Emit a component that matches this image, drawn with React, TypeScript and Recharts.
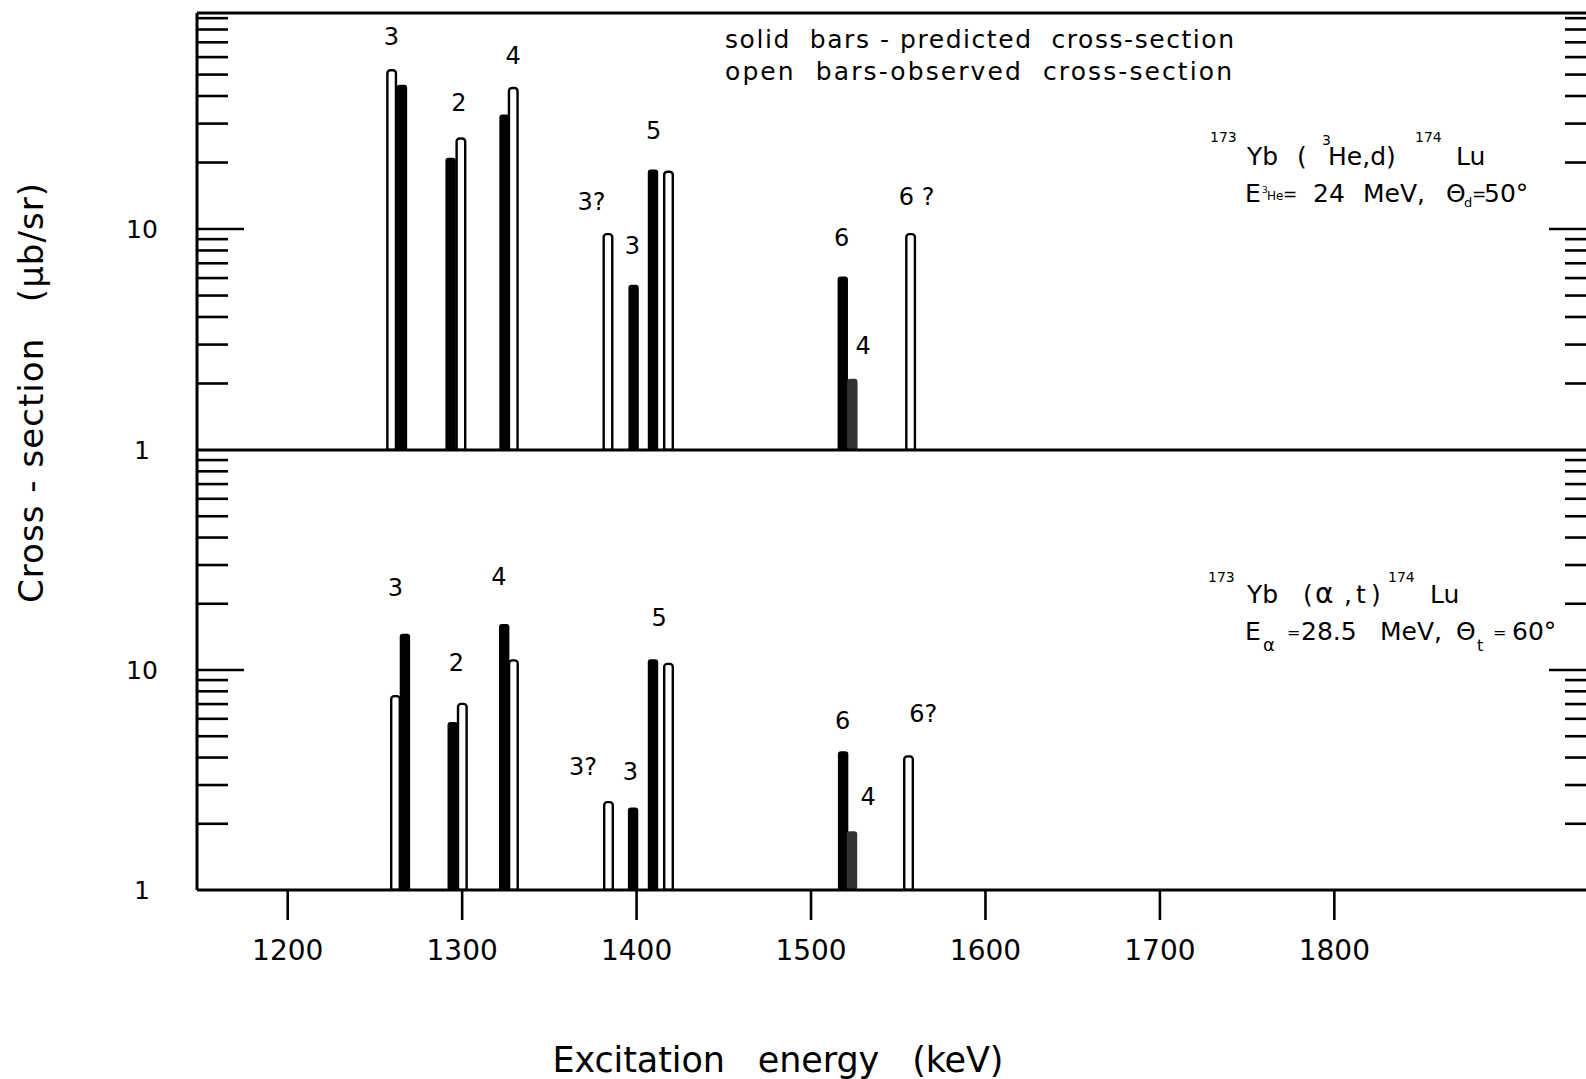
import React from "react";
import {
  ComposedChart,
  Bar,
  Scatter,
  XAxis,
  YAxis,
  ReferenceLine,
  Rectangle,
} from "recharts";

const FONT = '"DejaVu Sans", "Noto Sans", sans-serif';

// 173Yb(3He,d)174Lu panel: level energies (keV), cross-sections (ub/sr), bar kind
const HED_ENERGY = [1259.6, 1265.5, 1293.4, 1299.3, 1324.3, 1329.3, 1383.6, 1398.3, 1409.4, 1418.3, 1518.2, 1523.7, 1557.1];
const HED_XS = [53, 45, 21, 26, 33, 44, 9.6, 5.6, 18.6, 18.4, 6.1, 2.1, 9.6];
const HED_KIND = ["open", "solid", "solid", "open", "solid", "open", "open", "solid", "solid", "open", "solid", "stipple", "open"];
const HED_DOMAIN = [1, 95];

// spin labels above the (3He,d) bars
const HED_LABEL = ["3", "2", "4", "3?", "3", "5", "6", "4", "6 ?"];
const HED_LABEL_E = [1259.4, 1298.2, 1329.2, 1374.1, 1397.6, 1409.8, 1517.5, 1529.9, 1560.5];
const HED_LABEL_V = [74, 37, 61, 13.3, 8.4, 27.9, 9.1, 2.95, 14];

// 173Yb(alpha,t)174Lu panel
const ALT_ENERGY = [1261.8, 1267.2, 1294.6, 1300.1, 1324.1, 1329.4, 1383.9, 1398.0, 1409.4, 1418.3, 1518.4, 1523.5, 1555.9];
const ALT_XS = [7.7, 14.6, 5.8, 7.1, 16.2, 11.2, 2.54, 2.37, 11.2, 10.8, 4.27, 1.85, 4.1];
const ALT_KIND = ["open", "solid", "solid", "open", "solid", "open", "open", "solid", "solid", "open", "solid", "stipple", "open"];
const ALT_DOMAIN = [1, 100];

const ALT_LABEL = ["3", "2", "4", "3?", "3", "5", "6", "4", "6?"];
const ALT_LABEL_E = [1261.7, 1296.7, 1321.0, 1369.3, 1396.5, 1412.9, 1518.1, 1532.7, 1564.3];
const ALT_LABEL_V = [23.5, 10.8, 26.4, 3.63, 3.45, 17.2, 5.89, 2.66, 6.31];

const ENERGY_TICKS = [1200, 1300, 1400, 1500, 1600, 1700, 1800];
const XS_TICKS = [1, 2, 3, 4, 5, 6, 7, 8, 9, 10, 20, 30, 40, 50, 60, 70, 80, 90];
const XS_TICK_LABELS: Record<number, string> = { 1: "1", 10: "10" };

const hedBars = HED_ENERGY.map((e, i) => ({ e, v: HED_XS[i], kind: HED_KIND[i] }));
const hedLabels = HED_LABEL.map((text, i) => ({ e: HED_LABEL_E[i], v: HED_LABEL_V[i], text }));
const altBars = ALT_ENERGY.map((e, i) => ({ e, v: ALT_XS[i], kind: ALT_KIND[i] }));
const altLabels = ALT_LABEL.map((text, i) => ({ e: ALT_LABEL_E[i], v: ALT_LABEL_V[i], text }));

function CrossSectionBar(props: any) {
  const { x, y, width, height, payload } = props;
  if (!isFinite(x) || !isFinite(y) || !height) return null;
  const cx = x + (width || 0) / 2;
  if (payload.kind === "open") {
    return (
      <Rectangle
        x={cx - 4.3}
        y={y + 1.2}
        width={8.6}
        height={height - 1.2}
        radius={[3, 3, 0, 0]}
        fill="#fff"
        stroke="#000"
        strokeWidth={2.4}
      />
    );
  }
  return (
    <Rectangle
      x={cx - 5.2}
      y={y}
      width={10.4}
      height={height}
      radius={[3, 3, 0, 0]}
      fill={payload.kind === "stipple" ? "#333" : "#000"}
    />
  );
}

function PeakLabel(props: any) {
  const { cx, cy, payload } = props;
  return (
    <text
      x={cx}
      y={cy}
      textAnchor="middle"
      dominantBaseline="central"
      fontSize={24}
      fontFamily={FONT}
      fill="#000"
      style={{ whiteSpace: "pre" }}
    >
      {payload.text}
    </text>
  );
}

function LeftTick(props: any) {
  const { x, y, payload } = props;
  const v = payload.value;
  const len = v === 10 ? 47 : 31;
  const label = XS_TICK_LABELS[v];
  return (
    <g>
      {v > 1 && (
        <line x1={x} x2={x + len} y1={y} y2={y} stroke="#000" strokeWidth={2.6} />
      )}
      {label && (
        <text
          x={x - 55}
          y={y}
          textAnchor="middle"
          dominantBaseline="central"
          fontSize={25}
          fontFamily={FONT}
          fill="#000"
        >
          {label}
        </text>
      )}
    </g>
  );
}

function RightTick(props: any) {
  const { x, y, payload } = props;
  const v = payload.value;
  if (v <= 1) return <g />;
  const len = v === 10 ? 47 : 31;
  return <line x1={x - len} x2={x} y1={y} y2={y} stroke="#000" strokeWidth={2.6} />;
}

function EnergyTick(props: any) {
  const { x, y, payload } = props;
  return (
    <text x={x} y={y + 40} textAnchor="middle" fontSize={28} fontFamily={FONT} fill="#000">
      {payload.value}
    </text>
  );
}

function Panel({
  bars,
  labels,
  domain,
  height,
  margin,
  showEnergyAxis,
}: {
  bars: { e: number; v: number; kind: string }[];
  labels: { e: number; v: number; text: string }[];
  domain: number[];
  height: number;
  margin: { top: number; right: number; bottom: number; left: number };
  showEnergyAxis: boolean;
}) {
  return (
    <ComposedChart width={1610} height={height} data={bars} margin={margin}>
      <XAxis
        dataKey="e"
        type="number"
        domain={[1148, 1950]}
        allowDataOverflow
        ticks={ENERGY_TICKS}
        interval={0}
        hide={!showEnergyAxis}
        height={60}
        axisLine={{ stroke: "#000", strokeWidth: 3 }}
        tickLine={{ stroke: "#000", strokeWidth: 2.6 }}
        tickSize={30}
        tickMargin={0}
        tick={<EnergyTick />}
      />
      <YAxis
        yAxisId="l"
        scale="log"
        type="number"
        domain={domain}
        allowDataOverflow
        ticks={XS_TICKS}
        interval={0}
        width={197}
        axisLine={{ stroke: "#000", strokeWidth: 3 }}
        tickLine={false}
        tickSize={0}
        tickMargin={0}
        tick={<LeftTick />}
      />
      <YAxis
        yAxisId="r"
        orientation="right"
        scale="log"
        type="number"
        domain={domain}
        allowDataOverflow
        ticks={XS_TICKS}
        interval={0}
        width={14}
        axisLine={{ stroke: "#000", strokeWidth: 3 }}
        tickLine={false}
        tickSize={0}
        tickMargin={0}
        tick={<RightTick />}
      />
      <ReferenceLine yAxisId="l" y={domain[1]} stroke="#000" strokeWidth={3} />
      <Bar
        yAxisId="l"
        dataKey="v"
        barSize={10}
        shape={<CrossSectionBar />}
        isAnimationActive={false}
      />
      <Scatter
        yAxisId="l"
        data={labels}
        dataKey="v"
        shape={<PeakLabel />}
        isAnimationActive={false}
      />
    </ComposedChart>
  );
}

export default function App() {
  const t = { fontFamily: FONT, fill: "#000" };
  return (
    <div
      style={{
        position: "absolute",
        left: 0,
        top: 0,
        width: 1586,
        height: 1079,
        overflow: "hidden",
        background: "#fff",
      }}
    >
      <div style={{ position: "absolute", left: 0, top: 0 }}>
        <Panel
          bars={hedBars}
          labels={hedLabels}
          domain={HED_DOMAIN}
          height={480}
          margin={{ top: 13, right: 0, bottom: 30, left: 0 }}
          showEnergyAxis={false}
        />
      </div>
      <div style={{ position: "absolute", left: 0, top: 0 }}>
        <Panel
          bars={altBars}
          labels={altLabels}
          domain={ALT_DOMAIN}
          height={1079}
          margin={{ top: 450, right: 0, bottom: 129, left: 0 }}
          showEnergyAxis={true}
        />
      </div>
      <svg
        width={1586}
        height={1079}
        style={{ position: "absolute", left: 0, top: 0, pointerEvents: "none" }}
      >
        <text x={725} y={48} fontSize={25} textLength={509} lengthAdjust="spacing" style={{ whiteSpace: "pre" }} {...t}>
          solid  bars - predicted  cross-section
        </text>
        <text x={725} y={80} fontSize={25} textLength={507} lengthAdjust="spacing" style={{ whiteSpace: "pre" }} {...t}>
          open  bars-observed  cross-section
        </text>

        <text fontSize={25} {...t}>
          <tspan x={1210} y={142} fontSize={14}>173</tspan>
          <tspan x={1247} y={165}>Yb</tspan>
          <tspan x={1297} y={165}>(</tspan>
          <tspan x={1322} y={145} fontSize={14}>3</tspan>
          <tspan x={1328} y={165}>He,d)</tspan>
          <tspan x={1415} y={142} fontSize={14}>174</tspan>
          <tspan x={1456} y={165}>Lu</tspan>
        </text>
        <text fontSize={25} {...t}>
          <tspan x={1245} y={202}>E</tspan>
          <tspan x={1262} y={193} fontSize={9}>3</tspan>
          <tspan x={1267} y={200} fontSize={12}>He</tspan>
          <tspan x={1283} y={200} fontSize={17}>=</tspan>
          <tspan x={1313} y={202}>24</tspan>
          <tspan x={1363} y={202}>MeV,</tspan>
          <tspan x={1446} y={202}>Θ</tspan>
          <tspan x={1464} y={207} fontSize={13}>d</tspan>
          <tspan x={1472} y={200} fontSize={17}>=</tspan>
          <tspan x={1484} y={202}>50°</tspan>
        </text>

        <text fontSize={25} {...t}>
          <tspan x={1208} y={582} fontSize={14}>173</tspan>
          <tspan x={1247} y={603}>Yb</tspan>
          <tspan x={1303} y={603}>(</tspan>
          <tspan x={1315} y={603} fontSize={28}>α</tspan>
          <tspan x={1344} y={603}>,</tspan>
          <tspan x={1356} y={603}>t</tspan>
          <tspan x={1371} y={603}>)</tspan>
          <tspan x={1388} y={582} fontSize={14}>174</tspan>
          <tspan x={1430} y={603}>Lu</tspan>
        </text>
        <text fontSize={25} {...t}>
          <tspan x={1245} y={640}>E</tspan>
          <tspan x={1263} y={651} fontSize={18}>α</tspan>
          <tspan x={1287} y={638} fontSize={16}>=</tspan>
          <tspan x={1301} y={640}>28.5</tspan>
          <tspan x={1380} y={640}>MeV,</tspan>
          <tspan x={1456} y={640}>Θ</tspan>
          <tspan x={1477} y={651} fontSize={16}>t</tspan>
          <tspan x={1493} y={638} fontSize={16}>=</tspan>
          <tspan x={1512} y={640}>60°</tspan>
        </text>

        <text
          transform="rotate(-90)"
          x={-393}
          y={43}
          textAnchor="middle"
          fontSize={34}
          textLength={420}
          lengthAdjust="spacing"
          style={{ whiteSpace: "pre" }}
          {...t}
        >
          Cross - section   (μb/sr)
        </text>
        <text
          x={778}
          y={1072}
          textAnchor="middle"
          fontSize={35}
          textLength={451}
          lengthAdjust="spacing"
          style={{ whiteSpace: "pre" }}
          {...t}
        >
          Excitation   energy   (keV)
        </text>
      </svg>
    </div>
  );
}
